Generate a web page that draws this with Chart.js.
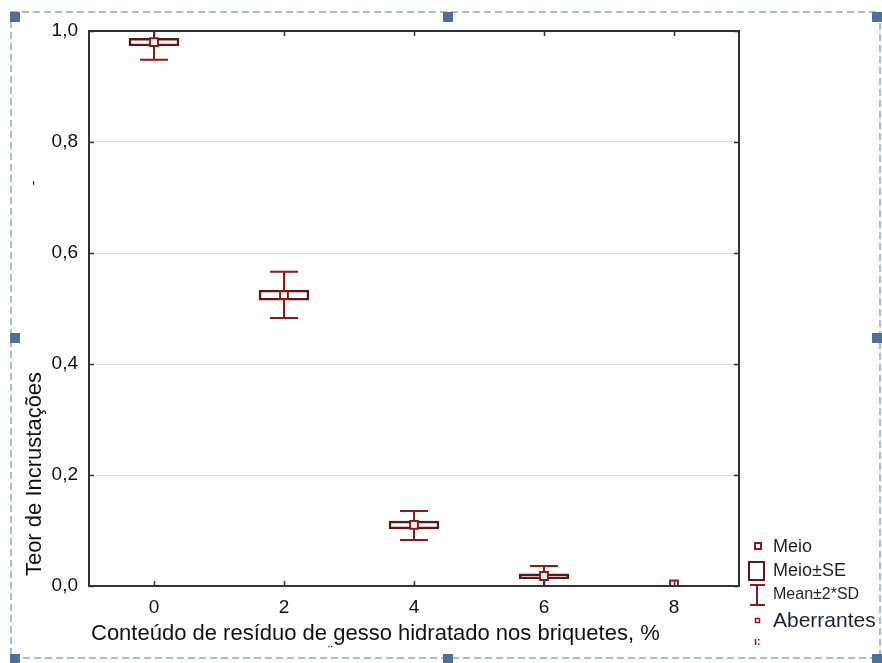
<!DOCTYPE html>
<html>
<head>
<meta charset="utf-8">
<script src="https://cdn.jsdelivr.net/npm/chart.js@4.4.1/dist/chart.umd.min.js"></script>
<style>
  html, body { margin: 0; padding: 0; background: #fff; }
  #wrap { width: 882px; height: 663px; position: relative; }
</style>
</head>
<body>
<div id="wrap"><canvas id="boxChart"></canvas></div>
<script>
// gypsum residue content (%) vs incrustation level
const contents = [0, 2, 4, 6, 8];
const means = [0.980, 0.524, 0.110, 0.018, 0.003];
const seLow = [0.973, 0.515, 0.103, 0.013, null];
const seHigh = [0.987, 0.533, 0.117, 0.022, null];
const sdLow = [0.948, 0.483, 0.083, 0.000, null];
const sdHigh = [1.012, 0.566, 0.135, 0.036, null];
const xTicks = [0, 2, 4, 6, 8];
const yTicks = [0, 0.2, 0.4, 0.6, 0.8, 1.0];

const FONT = '"Liberation Sans", Arial, sans-serif';
const RED = '#901818';
const BOX = '#5e1717';

// whiskers drawn under the boxes
const whiskerPlugin = {
    id: 'whiskers',
    beforeDatasetsDraw(chart) {
        const ctx = chart.ctx;
        const x = chart.scales.x, y = chart.scales.y;
        const area = chart.chartArea;
        ctx.save();
        ctx.beginPath();
        ctx.rect(area.left, area.top, area.right - area.left, area.bottom - area.top);
        ctx.clip();
        ctx.strokeStyle = RED;
        ctx.lineWidth = 2;
        contents.forEach(function(c, i) {
            if (sdLow[i] === null) return;
            const px = x.getPixelForValue(c);
            const lo = y.getPixelForValue(sdLow[i]);
            const hi = y.getPixelForValue(sdHigh[i]);
            ctx.beginPath();
            ctx.moveTo(px, lo); ctx.lineTo(px, hi);
            ctx.moveTo(px - 14, lo); ctx.lineTo(px + 14, lo);
            ctx.moveTo(px - 14, hi); ctx.lineTo(px + 14, hi);
            ctx.stroke();
        });
        ctx.restore();
    }
};

// frame, inner ticks, legend, titles and the selection handles
const decorPlugin = {
    id: 'decor',
    afterDraw(chart) {
        const ctx = chart.ctx;
        const a = chart.chartArea;
        const x = chart.scales.x, y = chart.scales.y;
        ctx.save();

        ctx.strokeStyle = '#333';
        ctx.lineWidth = 2;
        ctx.strokeRect(a.left, a.top, a.right - a.left, a.bottom - a.top);

        ctx.lineWidth = 1.5;
        ctx.beginPath();
        xTicks.forEach(function(v) {
            const px = Math.round(x.getPixelForValue(v)) + 0.5;
            ctx.moveTo(px, a.bottom); ctx.lineTo(px, a.bottom - 5);
            ctx.moveTo(px, a.top); ctx.lineTo(px, a.top + 5);
        });
        yTicks.forEach(function(v) {
            const py = Math.round(y.getPixelForValue(v)) + 0.5;
            ctx.moveTo(a.left, py); ctx.lineTo(a.left + 5, py);
            ctx.moveTo(a.right, py); ctx.lineTo(a.right - 5, py);
        });
        ctx.stroke();

        // axis titles
        ctx.fillStyle = '#111';
        ctx.font = '22px ' + FONT;
        ctx.textAlign = 'left';
        ctx.textBaseline = 'alphabetic';
        ctx.fillText('Conteúdo de resíduo de gesso hidratado nos briquetes, %', 91, 640);
        ctx.font = '14px ' + FONT;
        ctx.fillText('¨', 328, 656);

        ctx.save();
        ctx.translate(41, 474);
        ctx.rotate(-Math.PI / 2);
        ctx.font = '22px ' + FONT;
        ctx.textAlign = 'center';
        ctx.fillText('Teor de Incrustações', 0, 0);
        ctx.restore();
        ctx.save();
        ctx.translate(38, 183);
        ctx.rotate(-Math.PI / 2);
        ctx.font = '14px ' + FONT;
        ctx.textAlign = 'center';
        ctx.fillText('-', 0, 0);
        ctx.restore();

        // legend
        ctx.strokeStyle = RED;
        ctx.lineWidth = 2;
        ctx.strokeRect(755, 543, 6, 6);
        ctx.strokeStyle = BOX;
        ctx.strokeRect(749, 562, 15, 18);
        ctx.strokeStyle = RED;
        ctx.beginPath();
        ctx.moveTo(757, 585); ctx.lineTo(757, 605);
        ctx.moveTo(750, 585); ctx.lineTo(765, 585);
        ctx.moveTo(750, 605); ctx.lineTo(765, 605);
        ctx.stroke();
        ctx.lineWidth = 1.5;
        ctx.strokeRect(755.5, 618.5, 4, 4);
        ctx.fillStyle = RED;
        ctx.font = 'bold 11px ' + FONT;
        ctx.fillText('ı:', 754, 645);

        ctx.fillStyle = '#1f1f3a';
        ctx.font = '18px ' + FONT;
        ctx.fillText('Meio', 773, 552);
        ctx.fillText('Meio±SE', 773, 576);
        ctx.font = '16px ' + FONT;
        ctx.fillText('Mean±2*SD', 773, 599);
        ctx.font = '21px ' + FONT;
        ctx.fillText('Aberrantes', 773, 627);

        // selection frame
        ctx.strokeStyle = '#a9bcd3';
        ctx.lineWidth = 2;
        ctx.setLineDash([7, 4]);
        ctx.strokeRect(11, 12, 869, 646);
        ctx.setLineDash([]);
        ctx.fillStyle = '#4d6f98';
        [15, 448, 877].forEach(function(hx) {
            [17, 659].forEach(function(hy) {
                ctx.fillRect(hx - 5, hy - 5, 10, 10);
            });
        });
        ctx.fillRect(10, 333, 10, 10);
        ctx.fillRect(872, 333, 10, 10);

        ctx.restore();
    }
};

const ctx = document.getElementById('boxChart').getContext('2d');
new Chart(ctx, {
    data: {
        datasets: [{
            type: 'scatter',
            label: 'Meio',
            order: 0,
            data: contents.map(function(c, i) { return { x: c, y: means[i] }; }),
            pointStyle: 'rect',
            pointRadius: 5.5,
            borderColor: RED,
            borderWidth: 2,
            backgroundColor: '#fff'
        }, {
            type: 'bar',
            label: 'Meio±SE',
            order: 1,
            data: contents.map(function(c, i) { return { x: c, y: [seLow[i], seHigh[i]] }; })
                .filter(function(d) { return d.y[0] !== null; }),
            backgroundColor: '#fff',
            borderColor: BOX,
            borderWidth: 2.5,
            borderSkipped: false,
            barThickness: 50
        }]
    },
    options: {
        responsive: true,
        maintainAspectRatio: false,
        animation: false,
        layout: { padding: { top: 31, right: 143, left: 0, bottom: 0 } },
        plugins: { legend: { display: false }, tooltip: { enabled: false } },
        scales: {
            x: {
                type: 'linear',
                min: -1,
                max: 9,
                offset: false,
                afterBuildTicks: function(scale) {
                    scale.ticks = xTicks.map(function(v) { return { value: v }; });
                },
                afterFit: function(scale) { scale.height = 77; },
                grid: { display: false, drawTicks: false, offset: false },
                border: { display: false },
                ticks: {
                    padding: 10,
                    color: '#111',
                    font: { family: FONT, size: 19 },
                    maxRotation: 0
                }
            },
            y: {
                min: 0,
                max: 1,
                afterBuildTicks: function(scale) {
                    scale.ticks = yTicks.map(function(v) { return { value: v }; });
                },
                afterFit: function(scale) { scale.width = 89; },
                grid: {
                    drawTicks: false,
                    color: function(c) {
                        const v = c.tick ? c.tick.value : 0;
                        return (v > 0.01 && v < 0.99) ? '#dcdcdc' : 'rgba(0,0,0,0)';
                    },
                    lineWidth: 1
                },
                border: { display: false },
                ticks: {
                    padding: 11,
                    color: '#111',
                    font: { family: FONT, size: 19 },
                    callback: function(v) { return v.toFixed(1).replace('.', ','); }
                }
            }
        }
    },
    plugins: [whiskerPlugin, decorPlugin]
});
</script>
</body>
</html>
